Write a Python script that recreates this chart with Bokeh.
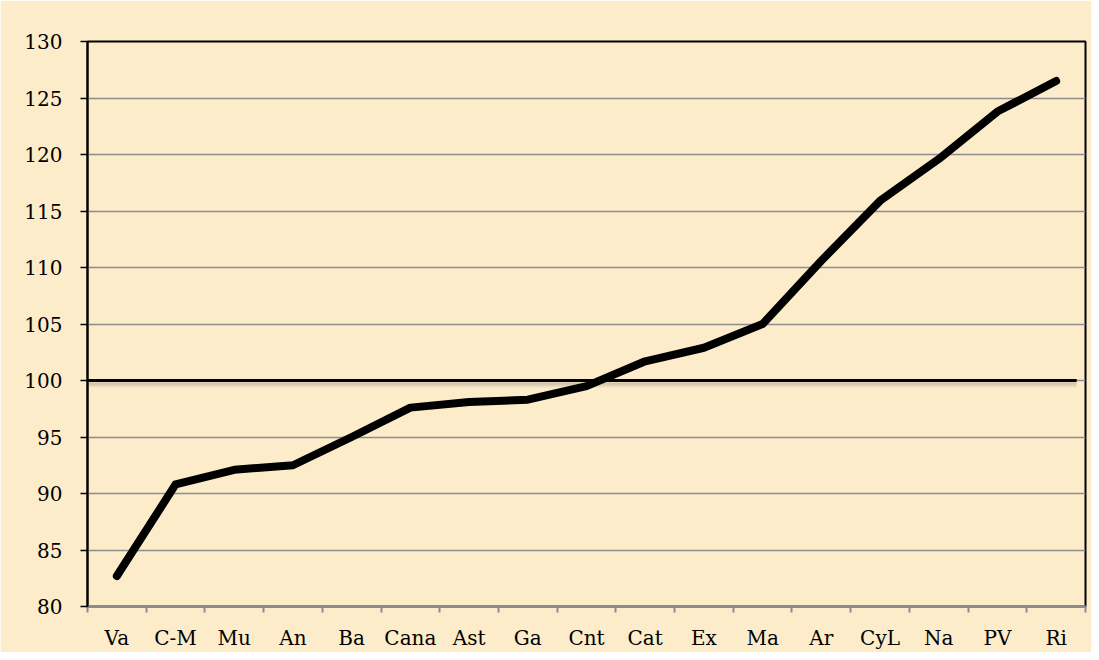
from bokeh.plotting import figure
from bokeh.models import FixedTicker, Range1d, ColumnDataSource
from bokeh.embed import file_html
from bokeh.resources import INLINE

categories = ["Va", "C-M", "Mu", "An", "Ba", "Cana", "Ast", "Ga", "Cnt",
              "Cat", "Ex", "Ma", "Ar", "CyL", "Na", "PV", "Ri"]
values = [82.7, 90.8, 92.1, 92.5, 95.0, 97.6, 98.1, 98.3, 99.5,
          101.7, 102.9, 105.0, 110.6, 115.9, 119.6, 123.8, 126.5]
reference_level = 100
y_ticks = [80, 85, 90, 95, 100, 105, 110, 115, 120, 125, 130]

BG = "#FCECCA"
FONT = "DejaVu Serif"

xs = [i + 0.5 for i in range(len(categories))]
src = ColumnDataSource(dict(x=xs, y=values))

p = figure(width=1091, height=652, output_backend="svg", toolbar_location=None,
           x_range=Range1d(0, len(categories)), y_range=Range1d(80, 130),
           min_border_left=87, min_border_top=41, min_border_right=6,
           min_border_bottom=45)
p.background_fill_color = BG
p.border_fill_color = BG
p.outline_line_color = "black"
p.outline_line_width = 2

# grid
p.xgrid.visible = False
p.ygrid.ticker = FixedTicker(ticks=y_ticks)
p.ygrid.grid_line_color = "#8C8C8C"
p.ygrid.grid_line_width = 1.5

# y axis
p.yaxis.ticker = FixedTicker(ticks=y_ticks)
p.yaxis.axis_line_color = "black"
p.yaxis.axis_line_width = 2
p.yaxis.major_tick_line_color = "black"
p.yaxis.major_tick_line_width = 1.5
p.yaxis.major_tick_out = 7
p.yaxis.major_tick_in = 0
p.yaxis.minor_tick_line_color = None
p.yaxis.major_label_text_font = FONT
p.yaxis.major_label_text_font_size = "20px"
p.yaxis.major_label_text_color = "black"
p.yaxis.major_label_standoff = 18

# x axis: labels at centers, tick marks at boundaries
p.xaxis.ticker = FixedTicker(ticks=xs, minor_ticks=list(range(len(categories) + 1)))
p.xaxis.major_label_overrides = {x: c for x, c in zip(xs, categories)}
p.xaxis.axis_line_color = "#8C8C8C"
p.xaxis.axis_line_width = 3
p.xaxis.major_tick_line_color = None
p.xaxis.minor_tick_line_color = "#8C8C8C"
p.xaxis.minor_tick_line_width = 2
p.xaxis.minor_tick_out = 6
p.xaxis.minor_tick_in = 0
p.xaxis.major_label_text_font = FONT
p.xaxis.major_label_text_font_size = "20px"
p.xaxis.major_label_text_color = "black"
p.xaxis.major_label_standoff = 13

# reference line at 100 with soft shadow
x_end = len(categories) - 0.15
for off, a in [(0.55, 0.06), (0.45, 0.1), (0.35, 0.15), (0.25, 0.22)]:
    p.line([0, x_end], [reference_level - off, reference_level - off],
           line_color="#6E6456", line_alpha=a, line_width=2)
p.line([0, x_end], [reference_level, reference_level], line_color="black", line_width=3)

# data line
p.line("x", "y", source=src, line_color="black", line_width=8,
       line_join="round", line_cap="round")

open("out.html", "w").write(file_html(p, INLINE))
